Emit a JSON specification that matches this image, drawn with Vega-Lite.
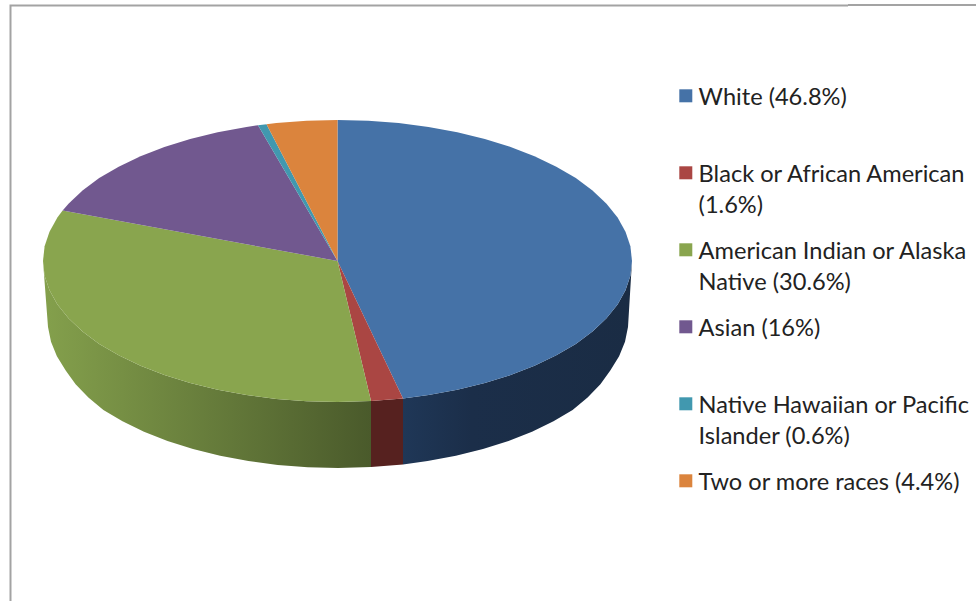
{"$schema":"https://vega.github.io/schema/vega-lite/v6.json","width":976,"height":601,"padding":0,"autosize":{"type":"none"},"background":"white","config":{"view":{"stroke":null}},"datasets":{"frame":[{"s":"a","i":0,"x":10.5,"y":601},{"s":"a","i":1,"x":10.5,"y":5.5},{"s":"a","i":2,"x":848,"y":5.5},{"s":"b","i":0,"x":848,"y":5},{"s":"b","i":1,"x":976,"y":5}],"walls":[{"part":"w","i":0,"x":632,"y":261},{"part":"w","i":1,"x":630.4,"y":275.7},{"part":"w","i":2,"x":625.5,"y":290.3},{"part":"w","i":3,"x":617.6,"y":304.6},{"part":"w","i":4,"x":606.5,"y":318.3},{"part":"w","i":5,"x":592.5,"y":331.5},{"part":"w","i":6,"x":575.8,"y":343.9},{"part":"w","i":7,"x":556.3,"y":355.3},{"part":"w","i":8,"x":534.5,"y":365.8},{"part":"w","i":9,"x":510.6,"y":375.1},{"part":"w","i":10,"x":484.8,"y":383.1},{"part":"w","i":11,"x":457.3,"y":389.8},{"part":"w","i":12,"x":428.5,"y":395.1},{"part":"w","i":13,"x":403,"y":398.5},{"part":"w","i":14,"x":403,"y":464.4},{"part":"w","i":15,"x":427.6,"y":461.1},{"part":"w","i":16,"x":455.9,"y":455.8},{"part":"w","i":17,"x":483,"y":449.1},{"part":"w","i":18,"x":508.5,"y":441.1},{"part":"w","i":19,"x":532,"y":431.8},{"part":"w","i":20,"x":553.5,"y":421.3},{"part":"w","i":21,"x":572.6,"y":409.9},{"part":"w","i":22,"x":587.6,"y":397.5},{"part":"w","i":23,"x":600.4,"y":384.3},{"part":"w","i":24,"x":610.3,"y":370.6},{"part":"w","i":25,"x":619.1,"y":356.3},{"part":"w","i":26,"x":625,"y":341.7},{"part":"w","i":27,"x":628,"y":327},{"part":"r","i":0,"x":403,"y":398.5},{"part":"r","i":1,"x":403,"y":464.4},{"part":"r","i":2,"x":371,"y":467.1},{"part":"r","i":3,"x":371,"y":401.1},{"part":"g","i":0,"x":371,"y":401.1},{"part":"g","i":1,"x":371,"y":467.1},{"part":"g","i":2,"x":338,"y":468},{"part":"g","i":3,"x":307.7,"y":467.2},{"part":"g","i":4,"x":277.7,"y":464.9},{"part":"g","i":5,"x":248.4,"y":461.1},{"part":"g","i":6,"x":220.1,"y":455.8},{"part":"g","i":7,"x":193,"y":449.1},{"part":"g","i":8,"x":167.5,"y":441.1},{"part":"g","i":9,"x":144,"y":431.8},{"part":"g","i":10,"x":122.5,"y":421.3},{"part":"g","i":11,"x":103.4,"y":409.9},{"part":"g","i":12,"x":88.4,"y":397.5},{"part":"g","i":13,"x":75.6,"y":384.3},{"part":"g","i":14,"x":65.7,"y":370.6},{"part":"g","i":15,"x":56.9,"y":356.3},{"part":"g","i":16,"x":51,"y":341.7},{"part":"g","i":17,"x":48,"y":327},{"part":"g","i":18,"x":43,"y":261},{"part":"g","i":19,"x":44.6,"y":275.7},{"part":"g","i":20,"x":49.5,"y":290.3},{"part":"g","i":21,"x":57.4,"y":304.6},{"part":"g","i":22,"x":68.5,"y":318.3},{"part":"g","i":23,"x":82.5,"y":331.5},{"part":"g","i":24,"x":99.2,"y":343.9},{"part":"g","i":25,"x":118.7,"y":355.3},{"part":"g","i":26,"x":140.5,"y":365.8},{"part":"g","i":27,"x":164.4,"y":375.1},{"part":"g","i":28,"x":190.2,"y":383.1},{"part":"g","i":29,"x":217.7,"y":389.8},{"part":"g","i":30,"x":246.5,"y":395.1},{"part":"g","i":31,"x":276.3,"y":398.9},{"part":"g","i":32,"x":306.7,"y":401.2},{"part":"g","i":33,"x":337.5,"y":402}],"slices":[{"race":"White (46.8%)","i":0,"x":337.5,"y":261},{"race":"White (46.8%)","i":1,"x":337.5,"y":120},{"race":"White (46.8%)","i":2,"x":368.3,"y":120.8},{"race":"White (46.8%)","i":3,"x":398.7,"y":123.1},{"race":"White (46.8%)","i":4,"x":428.5,"y":126.9},{"race":"White (46.8%)","i":5,"x":457.3,"y":132.2},{"race":"White (46.8%)","i":6,"x":484.8,"y":138.9},{"race":"White (46.8%)","i":7,"x":510.6,"y":146.9},{"race":"White (46.8%)","i":8,"x":534.5,"y":156.2},{"race":"White (46.8%)","i":9,"x":556.3,"y":166.7},{"race":"White (46.8%)","i":10,"x":575.8,"y":178.1},{"race":"White (46.8%)","i":11,"x":592.5,"y":190.5},{"race":"White (46.8%)","i":12,"x":606.5,"y":203.7},{"race":"White (46.8%)","i":13,"x":617.6,"y":217.4},{"race":"White (46.8%)","i":14,"x":625.5,"y":231.7},{"race":"White (46.8%)","i":15,"x":630.4,"y":246.3},{"race":"White (46.8%)","i":16,"x":632,"y":261},{"race":"White (46.8%)","i":17,"x":630.4,"y":275.7},{"race":"White (46.8%)","i":18,"x":625.5,"y":290.3},{"race":"White (46.8%)","i":19,"x":617.6,"y":304.6},{"race":"White (46.8%)","i":20,"x":606.5,"y":318.3},{"race":"White (46.8%)","i":21,"x":592.5,"y":331.5},{"race":"White (46.8%)","i":22,"x":575.8,"y":343.9},{"race":"White (46.8%)","i":23,"x":556.3,"y":355.3},{"race":"White (46.8%)","i":24,"x":534.5,"y":365.8},{"race":"White (46.8%)","i":25,"x":510.6,"y":375.1},{"race":"White (46.8%)","i":26,"x":484.8,"y":383.1},{"race":"White (46.8%)","i":27,"x":457.3,"y":389.8},{"race":"White (46.8%)","i":28,"x":428.5,"y":395.1},{"race":"White (46.8%)","i":29,"x":403,"y":398.5},{"race":"Black or African American|(1.6%)","i":0,"x":337.5,"y":261},{"race":"Black or African American|(1.6%)","i":1,"x":403,"y":398.5},{"race":"Black or African American|(1.6%)","i":2,"x":371,"y":401.1},{"race":"American Indian or Alaska|Native (30.6%)","i":0,"x":337.5,"y":261},{"race":"American Indian or Alaska|Native (30.6%)","i":1,"x":371,"y":401.1},{"race":"American Indian or Alaska|Native (30.6%)","i":2,"x":337.5,"y":402},{"race":"American Indian or Alaska|Native (30.6%)","i":3,"x":306.7,"y":401.2},{"race":"American Indian or Alaska|Native (30.6%)","i":4,"x":276.3,"y":398.9},{"race":"American Indian or Alaska|Native (30.6%)","i":5,"x":246.5,"y":395.1},{"race":"American Indian or Alaska|Native (30.6%)","i":6,"x":217.7,"y":389.8},{"race":"American Indian or Alaska|Native (30.6%)","i":7,"x":190.2,"y":383.1},{"race":"American Indian or Alaska|Native (30.6%)","i":8,"x":164.4,"y":375.1},{"race":"American Indian or Alaska|Native (30.6%)","i":9,"x":140.5,"y":365.8},{"race":"American Indian or Alaska|Native (30.6%)","i":10,"x":118.7,"y":355.3},{"race":"American Indian or Alaska|Native (30.6%)","i":11,"x":99.2,"y":343.9},{"race":"American Indian or Alaska|Native (30.6%)","i":12,"x":82.5,"y":331.5},{"race":"American Indian or Alaska|Native (30.6%)","i":13,"x":68.5,"y":318.3},{"race":"American Indian or Alaska|Native (30.6%)","i":14,"x":57.4,"y":304.6},{"race":"American Indian or Alaska|Native (30.6%)","i":15,"x":49.5,"y":290.3},{"race":"American Indian or Alaska|Native (30.6%)","i":16,"x":44.6,"y":275.7},{"race":"American Indian or Alaska|Native (30.6%)","i":17,"x":43,"y":261},{"race":"American Indian or Alaska|Native (30.6%)","i":18,"x":44.6,"y":246.3},{"race":"American Indian or Alaska|Native (30.6%)","i":19,"x":49.5,"y":231.7},{"race":"American Indian or Alaska|Native (30.6%)","i":20,"x":57.4,"y":217.4},{"race":"American Indian or Alaska|Native (30.6%)","i":21,"x":62.6,"y":210.5},{"race":"Asian (16%)","i":0,"x":337.5,"y":261},{"race":"Asian (16%)","i":1,"x":62.6,"y":210.5},{"race":"Asian (16%)","i":2,"x":68.5,"y":203.7},{"race":"Asian (16%)","i":3,"x":82.5,"y":190.5},{"race":"Asian (16%)","i":4,"x":99.2,"y":178.1},{"race":"Asian (16%)","i":5,"x":118.7,"y":166.7},{"race":"Asian (16%)","i":6,"x":140.5,"y":156.2},{"race":"Asian (16%)","i":7,"x":164.4,"y":146.9},{"race":"Asian (16%)","i":8,"x":190.2,"y":138.9},{"race":"Asian (16%)","i":9,"x":217.7,"y":132.2},{"race":"Asian (16%)","i":10,"x":246.5,"y":126.9},{"race":"Asian (16%)","i":11,"x":258,"y":125.2},{"race":"Native Hawaiian or Pacific|Islander (0.6%)","i":0,"x":337.5,"y":261},{"race":"Native Hawaiian or Pacific|Islander (0.6%)","i":1,"x":258,"y":125.2},{"race":"Native Hawaiian or Pacific|Islander (0.6%)","i":2,"x":266.5,"y":124.2},{"race":"Two or more races (4.4%)","i":0,"x":337.5,"y":261},{"race":"Two or more races (4.4%)","i":1,"x":266.5,"y":124.2},{"race":"Two or more races (4.4%)","i":2,"x":276.3,"y":123.1},{"race":"Two or more races (4.4%)","i":3,"x":306.7,"y":120.8},{"race":"Two or more races (4.4%)","i":4,"x":337.5,"y":120}]},"layer":[{"data":{"name":"frame"},"mark":{"type":"line","stroke":"#a3a3a3","strokeWidth":2},"encoding":{"x":{"field":"x","type":"quantitative","axis":null,"scale":{"domain":[0,976],"nice":false,"zero":false}},"y":{"field":"y","type":"quantitative","axis":null,"scale":{"domain":[601,0],"nice":false,"zero":false}},"detail":{"field":"s"},"order":{"field":"i"}}},{"data":{"name":"walls"},"transform":[{"filter":"datum.part=='w'"}],"mark":{"type":"line","strokeWidth":0,"fill":{"gradient":"linear","x1":0,"x2":1,"y1":0,"y2":0,"stops":[{"offset":0,"color":"#1f3757"},{"offset":0.3,"color":"#1b2e49"},{"offset":1,"color":"#1a2c44"}]}},"encoding":{"x":{"field":"x","type":"quantitative","axis":null},"y":{"field":"y","type":"quantitative","axis":null},"order":{"field":"i"}}},{"data":{"name":"walls"},"transform":[{"filter":"datum.part=='r'"}],"mark":{"type":"line","strokeWidth":0,"fill":"#56211f"},"encoding":{"x":{"field":"x","type":"quantitative","axis":null},"y":{"field":"y","type":"quantitative","axis":null},"order":{"field":"i"}}},{"data":{"name":"walls"},"transform":[{"filter":"datum.part=='g'"}],"mark":{"type":"line","strokeWidth":0,"fill":{"gradient":"linear","x1":0,"x2":1,"y1":0,"y2":0,"stops":[{"offset":0,"color":"#84a04c"},{"offset":1,"color":"#4a5a2b"}]}},"encoding":{"x":{"field":"x","type":"quantitative","axis":null},"y":{"field":"y","type":"quantitative","axis":null},"order":{"field":"i"}}},{"data":{"name":"slices"},"mark":{"type":"line","strokeWidth":0},"encoding":{"x":{"field":"x","type":"quantitative","axis":null},"y":{"field":"y","type":"quantitative","axis":null},"order":{"field":"i"},"fill":{"field":"race","type":"nominal","sort":null,"scale":{"domain":["White (46.8%)","Black or African American|(1.6%)","American Indian or Alaska|Native (30.6%)","Asian (16%)","Native Hawaiian or Pacific|Islander (0.6%)","Two or more races (4.4%)"],"range":["#4572a7","#aa4643","#89a54e","#71588f","#4198af","#db843d"]},"legend":{"orient":"none","legendX":674,"legendY":84,"title":null,"symbolType":"square","symbolSize":169,"symbolStrokeWidth":0,"labelFont":"Lato","labelFontSize":23.6,"labelColor":"#222222","labelBaseline":"top","labelOffset":1,"labelLimit":400,"rowPadding":20,"labelExpr":"indexof(datum.label,'|')<0 ? [datum.label,' '] : split(datum.label,'|')","encoding":{"labels":{"lineHeight":{"value":31},"dy":{"value":-10}}}}}}}]}
